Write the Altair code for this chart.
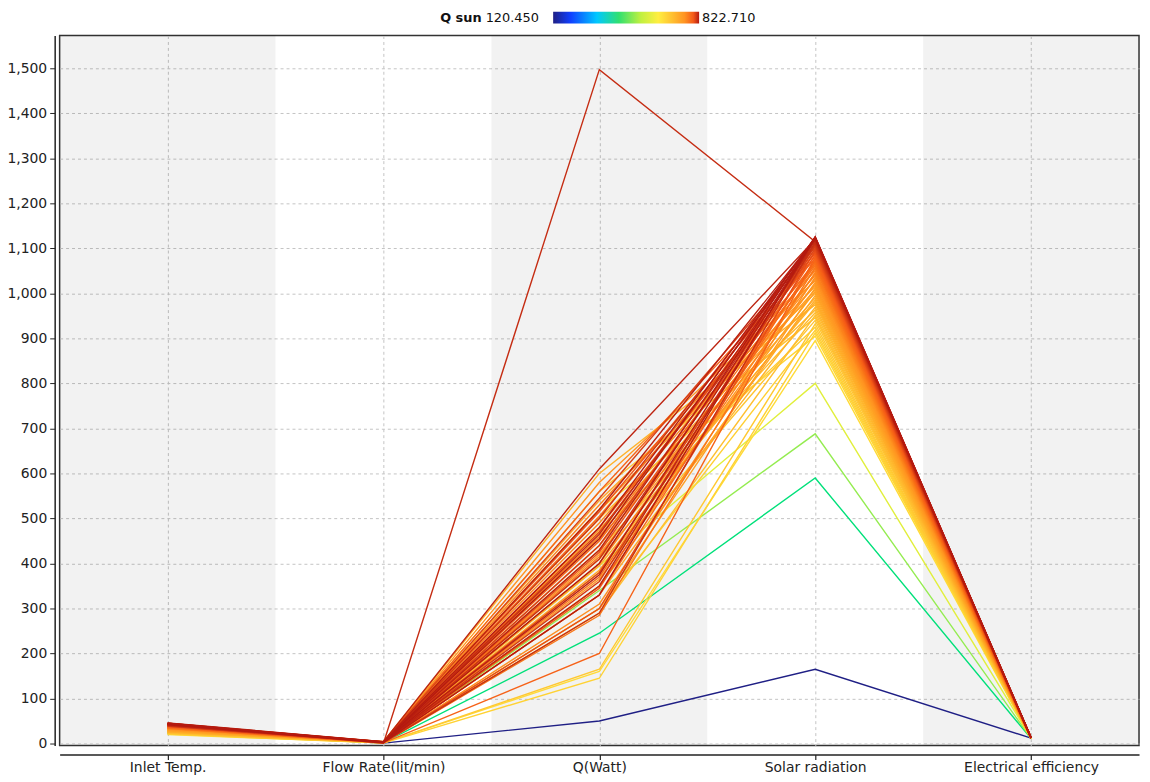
import altair as alt
import pandas as pd

axes = ["Inlet Temp.", "Flow Rate(lit/min)", "Q(Watt)", "Solar radiation", "Electrical efficiency"]
shaded = [1, 0, 1, 0, 1]
y_ticks = list(range(0, 1501, 100))

solar_rad = [165, 590, 688, 800, 895, 905, 912, 918, 925, 932, 940, 946, 951, 957, 963, 969,
             975, 980, 985, 990, 995, 1000, 1004, 1008, 1012, 1016, 1020, 1024, 1028, 1032,
             1036, 1040, 1044, 1046, 1050, 1054, 1058, 1062, 1065, 1068, 1071, 1074, 1077,
             1080, 1083, 1086, 1089, 1092, 1095, 1098, 1100, 1103, 1105, 1108, 1110, 1112,
             1114, 1115, 1117, 1119, 1120, 1121, 1122, 1123, 1124, 1125, 1125, 1126]
q_watt = [50, 245, 340, 395, 160, 520, 145, 300, 470, 165, 380, 560, 290, 430, 500, 350,
          600, 410, 395, 455, 330, 540, 385, 475, 300, 520, 420, 365, 580, 440,
          310, 490, 400, 350, 530, 460, 285, 415, 505, 370, 450, 330, 560,
          200, 480, 345, 515, 425, 300, 470, 380, 545, 440, 360, 500, 410,
          290, 1497, 465, 350, 610, 430, 520, 375, 480, 330, 455, 400]
inlet_temp = [25, 22, 23, 24, 20, 26, 21, 25, 27, 22, 24, 28, 23, 26, 29, 25,
              30, 27, 26, 31, 28, 33, 29, 32, 30, 34, 31, 33, 36, 32,
              34, 37, 35, 33, 38, 36, 34, 39, 37, 35, 40, 36, 41,
              38, 40, 37, 42, 39, 38, 43, 40, 44, 41, 39, 44, 42,
              40, 45, 43, 41, 46, 42, 45, 43, 44, 42, 45, 44]
flow_rate = [1.0, 2.0, 2.0, 2.5, 1.5, 3.0, 1.0, 2.0, 3.5, 1.5, 2.5, 4.0, 2.0, 3.0, 3.5, 2.5,
             4.0, 3.0, 2.5, 3.0, 2.0, 3.5, 2.5, 3.0, 2.0, 3.5, 3.0, 2.5, 4.0, 3.0,
             2.0, 3.5, 2.5, 2.0, 3.5, 3.0, 1.5, 3.0, 3.5, 2.5, 3.0, 2.0, 4.0,
             1.5, 3.0, 2.0, 3.5, 3.0, 2.0, 3.0, 2.5, 4.0, 3.0, 2.5, 3.5, 3.0,
             2.0, 0.5, 3.0, 2.5, 4.0, 3.0, 3.5, 2.5, 3.0, 2.0, 3.0, 2.5]
elec_eff = [12, 11, 11, 12, 11, 12, 11, 12, 12, 11, 12, 13, 12, 12, 13, 12,
            13, 12, 12, 13, 12, 13, 12, 13, 12, 13, 12, 12, 13, 12,
            12, 13, 12, 12, 13, 13, 12, 13, 13, 12, 13, 12, 13,
            12, 13, 12, 13, 13, 12, 13, 12, 13, 13, 12, 13, 13,
            12, 13, 13, 12, 14, 13, 13, 12, 13, 12, 13, 13]
q_sun = [120.45, 431.4, 503.1, 585.0, 654.4, 661.7, 666.9, 671.2, 676.4, 681.5, 687.3, 691.7,
         695.4, 699.8, 704.1, 708.5, 712.9, 716.6, 720.2, 723.9, 727.5, 731.2, 734.1, 737.0,
         740.0, 742.9, 745.8, 748.7, 751.7, 754.6, 757.5, 760.4, 763.4, 764.8, 767.8, 770.7,
         773.6, 776.5, 778.7, 780.9, 783.1, 785.3, 787.5, 789.7, 791.9, 794.1, 796.3, 798.4,
         800.6, 802.8, 804.3, 806.5, 808.0, 810.2, 811.6, 813.1, 814.6, 815.3, 816.8, 818.2,
         818.9, 819.7, 820.4, 821.1, 821.9, 822.6, 822.6, 822.71]

q_min, q_max = 120.45, 822.71
stop_t = [0, 0.12, 0.3, 0.45, 0.6, 0.72, 0.82, 0.9, 0.96, 1.0]
stop_colors = ["#1f1f85", "#1040ff", "#00c8ff", "#30e070", "#c0f040", "#ffee40",
               "#ffbe30", "#ff9422", "#f45a18", "#b41a10"]

rows = []
cols = [inlet_temp, flow_rate, q_watt, solar_rad, elec_eff]
for i in range(len(solar_rad)):
    for k, (name, arr) in enumerate(zip(axes, cols)):
        rows.append({"id": i, "axis": name, "k": k, "value": arr[i], "qsun": q_sun[i]})
df = pd.DataFrame(rows)

W, H = 1087, 715
FONT = "DejaVu Sans"

bg = alt.Chart(pd.DataFrame({"axis": axes, "shade": shaded})).mark_rect(
    color="black", strokeWidth=0
).encode(
    x=alt.X("axis:N", sort=axes, scale=alt.Scale(type="band", paddingInner=0, paddingOuter=0), axis=None),
    opacity=alt.condition(alt.datum.shade == 1, alt.value(0.05), alt.value(0.0)),
)

lines = alt.Chart(df).mark_line(strokeWidth=1.4).encode(
    x=alt.X("axis:N", sort=axes, scale=alt.Scale(type="point", padding=0.5),
            axis=alt.Axis(title=None, labelAngle=0, offset=9, tickSize=5, grid=True,
                          labelPadding=1, domainWidth=1.5, tickWidth=1.2)),
    y=alt.Y("value:Q", scale=alt.Scale(domain=[-4.4, 1572.8], nice=False, zero=False),
            axis=alt.Axis(title=None, values=y_ticks, format=",d", offset=5, tickSize=5,
                          grid=True, domainWidth=1.5, labelPadding=3)),
    detail="id:N",
    order=alt.Order("k:Q"),
    color=alt.Color("qsun:Q", legend=None,
                    scale=alt.Scale(domain=[q_min + t * (q_max - q_min) for t in stop_t],
                                    range=stop_colors)),
)

one = pd.DataFrame({"a": [0]})
grad = alt.LinearGradient(
    gradient="linear", x1=0, x2=1, y1=0, y2=0,
    stops=[alt.GradientStop(color=c, offset=t) for t, c in zip(stop_t, stop_colors)],
)
LEG_Y = -18
legend_bar = alt.Chart(one).mark_rect(fill=grad).encode(
    x=alt.value(497), x2=alt.value(644), y=alt.value(LEG_Y - 6), y2=alt.value(LEG_Y + 6)
)
legend_title = alt.Chart(one).mark_text(text="Q sun", fontWeight="bold", font=FONT, fontSize=13,
                                        align="right", baseline="middle", color="#111").encode(
    x=alt.value(425), y=alt.value(LEG_Y))
legend_min = alt.Chart(one).mark_text(text="120.450", font=FONT, fontSize=13,
                                      align="left", baseline="middle", color="#111").encode(
    x=alt.value(429), y=alt.value(LEG_Y))
legend_max = alt.Chart(one).mark_text(text="822.710", font=FONT, fontSize=13,
                                      align="left", baseline="middle", color="#111").encode(
    x=alt.value(647), y=alt.value(LEG_Y))

chart = alt.layer(bg, lines, legend_bar, legend_title, legend_min, legend_max).resolve_scale(
    x="independent"
).properties(
    width=W, height=H,
    autosize=alt.AutoSizeParams(type="none"),
    padding={"left": 52, "top": 25, "right": 3, "bottom": 30},
).configure_axis(
    labelFont=FONT, labelFontSize=14, labelColor="#222",
    gridColor="#c4c4c4", gridDash=[3, 3], gridWidth=1,
    domainColor="#222", tickColor="#222",
).configure_view(
    stroke="#333", strokeWidth=1.5
)

chart.save("out.html", embed_options={"renderer": "svg", "actions": False})
